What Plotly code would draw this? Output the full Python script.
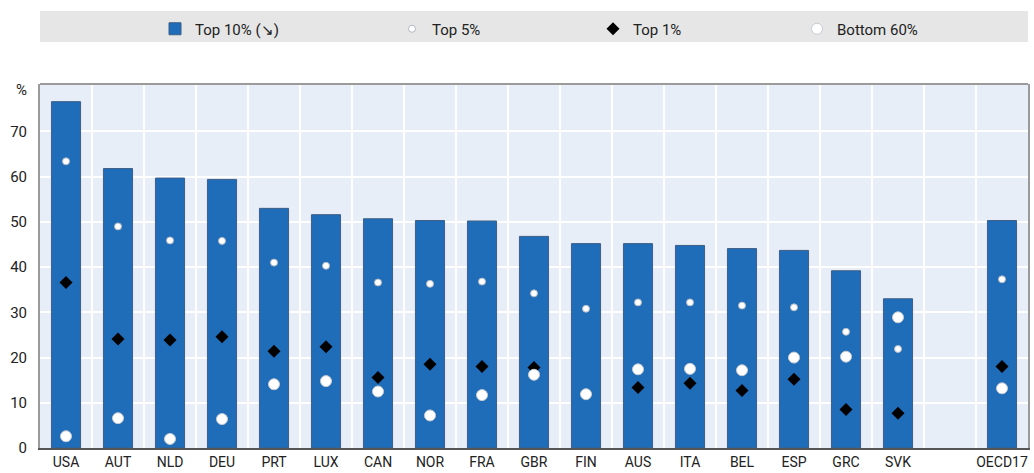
import plotly.graph_objects as go

countries = ["USA", "AUT", "NLD", "DEU", "PRT", "LUX", "CAN", "NOR", "FRA", "GBR",
             "FIN", "AUS", "ITA", "BEL", "ESP", "GRC", "SVK", "", "OECD17"]
top10 = [76.6, 61.8, 59.7, 59.4, 53.0, 51.6, 50.7, 50.3, 50.2, 46.8,
         45.2, 45.2, 44.8, 44.1, 43.7, 39.2, 33.0, None, 50.3]
top5 = [63.4, 49.0, 45.9, 45.8, 41.0, 40.3, 36.6, 36.3, 36.8, 34.2,
        30.8, 32.2, 32.2, 31.5, 31.1, 25.7, 21.9, None, 37.3]
top1 = [36.6, 24.1, 23.9, 24.6, 21.4, 22.4, 15.6, 18.5, 18.0, 17.8,
        None, 13.4, 14.3, 12.7, 15.2, 8.5, 7.7, None, 18.0]
bottom60 = [2.6, 6.6, 2.0, 6.4, 14.1, 14.8, 12.5, 7.2, 11.7, 16.2,
            11.9, 17.4, 17.5, 17.2, 20.0, 20.2, 28.9, None, 13.2]
yticks = [0, 10, 20, 30, 40, 50, 60, 70]

idx = list(range(len(countries)))
FONT = "Roboto, Liberation Sans, Arial, sans-serif"

W, H = 1034, 473
ML, MR, MT, MB = 40, 6, 84, 25
plot_h = H - MT - MB


def py(page_y):
    return (H - MB - page_y) / plot_h


fig = go.Figure()
fig.add_trace(go.Bar(
    x=idx, y=top10, name="Top 10% (\u2198)", width=0.56, legend="legend",
    marker=dict(color="#1F6CB8", line=dict(color="#3D5E86", width=1)),
))
fig.add_trace(go.Scatter(
    x=idx, y=top5, name="Top 5%", mode="markers", legend="legend2",
    marker=dict(symbol="circle", size=7, color="white",
                line=dict(color="#B0B8C4", width=1)),
))
fig.add_trace(go.Scatter(
    x=idx, y=top1, name="Top 1%", mode="markers", legend="legend3",
    marker=dict(symbol="diamond", size=10, color="black",
                line=dict(color="black", width=0)),
))
fig.add_trace(go.Scatter(
    x=idx, y=bottom60, name="Bottom 60%", mode="markers", legend="legend4",
    marker=dict(symbol="circle", size=11, color="white",
                line=dict(color="#C8CCD2", width=1)),
))

# legend band
fig.add_shape(type="rect", xref="paper", yref="paper",
              x0=0, x1=1, y0=py(42), y1=py(11),
              fillcolor="#E6E6E6", line=dict(width=0), layer="below")

fig.add_annotation(text="%", xref="paper", yref="paper",
                   x=(21 - ML) / (W - ML - MR), y=py(90),
                   xanchor="center", yanchor="middle", showarrow=False,
                   font=dict(family=FONT, size=15, color="#222"))

leg_common = dict(orientation="h", xref="container", yref="container",
                  xanchor="left", yanchor="middle", y=1 - 29 / H,
                  bgcolor="rgba(0,0,0,0)",
                  font=dict(family=FONT, size=15, color="#222"),
                  itemclick=False, itemdoubleclick=False)
leg_x = [155, 392, 593, 797]

fig.update_layout(
    width=W, height=H,
    margin=dict(l=ML, r=MR, t=MT, b=MB),
    paper_bgcolor="white",
    plot_bgcolor="#E8EEF7",
    font=dict(family=FONT, size=15, color="#222"),
    showlegend=True,
    legend=dict(x=leg_x[0] / W, **leg_common),
    legend2=dict(x=leg_x[1] / W, **leg_common),
    legend3=dict(x=leg_x[2] / W, **leg_common),
    legend4=dict(x=leg_x[3] / W, **leg_common),
    xaxis=dict(
        range=[-0.5, len(countries) - 0.5],
        tickmode="array", tickvals=idx, ticktext=countries,
        showgrid=False, zeroline=False, ticks="", automargin=False,
        showline=True, linecolor="#555", linewidth=2, mirror=False,
        minor=dict(tickvals=[i + 0.5 for i in idx[:-1]], showgrid=True,
                   gridcolor="white", gridwidth=2, ticks=""),
        tickfont=dict(size=14), ticklabelstandoff=0,
    ),
    yaxis=dict(
        range=[0, 80.5], tickmode="array", tickvals=yticks,
        showgrid=True, gridcolor="white", gridwidth=2, automargin=False,
        zeroline=False, ticks="", showline=True, linecolor="#9A9A9A",
        linewidth=2, mirror=True, tickfont=dict(size=15),
        ticklabelstandoff=8,
    ),
)
fig.add_shape(type="line", xref="paper", yref="paper", x0=0, x1=1, y0=1, y1=1,
              line=dict(color="#9A9A9A", width=2))

fig.write_html("out.html",
               config={"displayModeBar": False},
               post_script="document.body.style.margin='0';")
